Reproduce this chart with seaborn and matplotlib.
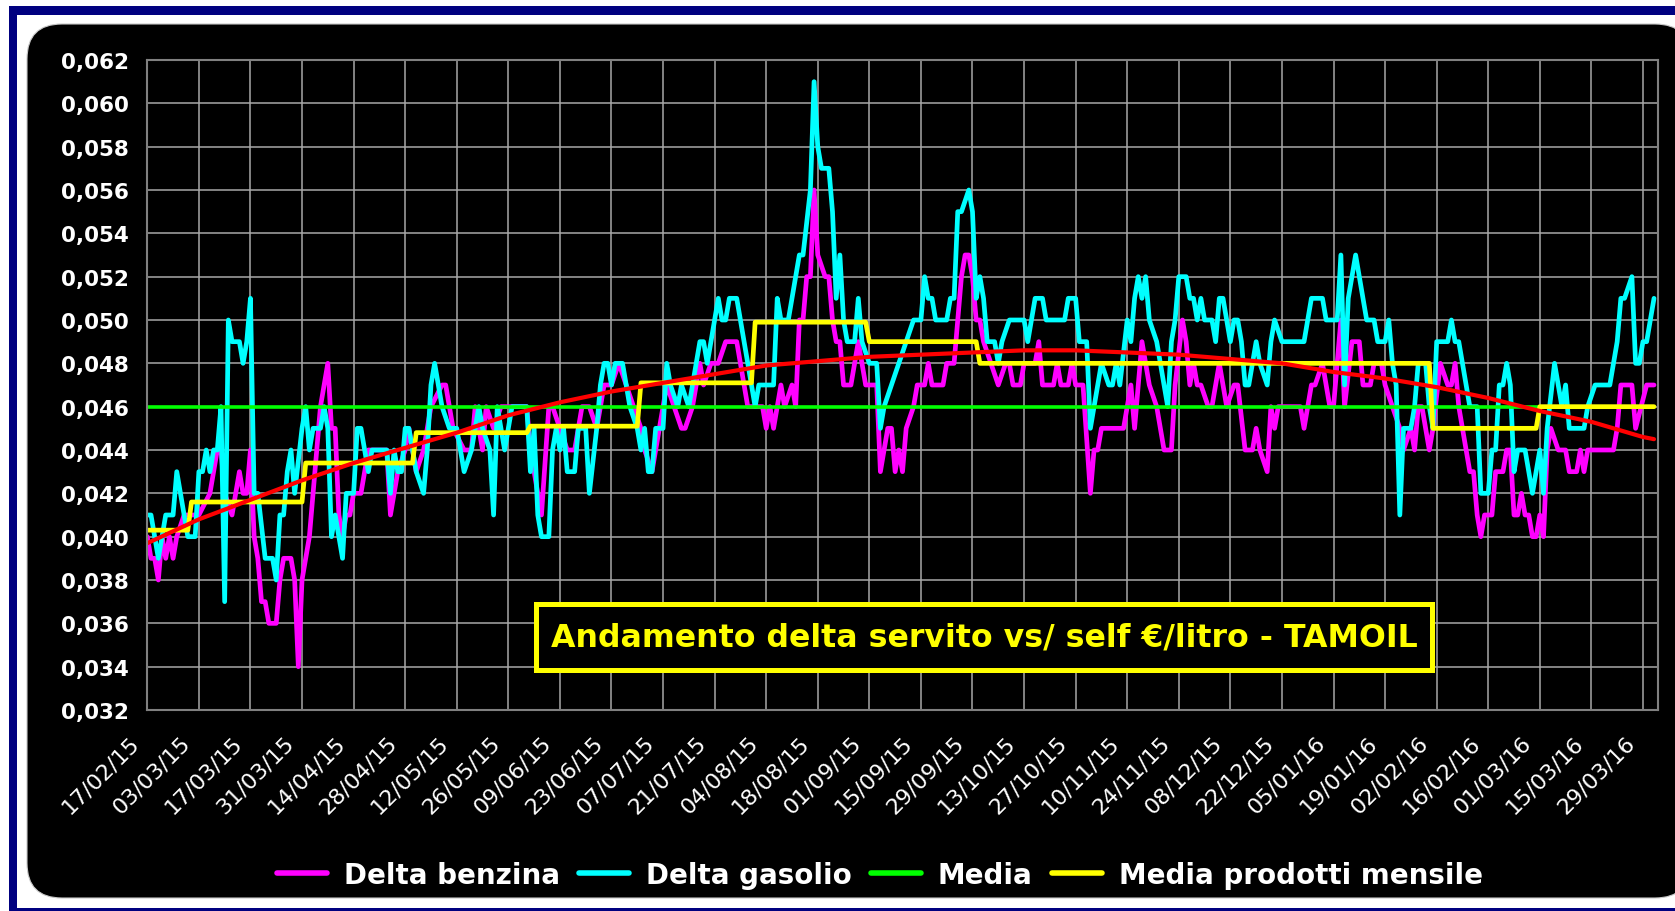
import matplotlib
matplotlib.use("Agg")
import matplotlib.pyplot as plt
from matplotlib.patches import Rectangle, FancyBboxPatch
from matplotlib.lines import Line2D
from matplotlib.transforms import ScaledTranslation
import seaborn as sns
import pandas as pd
import numpy as np

# -------------------
# Data (day offsets from 17/02/2015, values in euro/litre)
# -------------------
START = "2015-02-17"

benz_days = [0, 1, 2, 3, 4, 5, 6, 7, 8, 10, 14, 17, 19, 20, 21, 23, 25, 26, 27, 28,
             29, 30, 31, 32, 33, 35, 36, 37, 39, 40, 41, 42, 44, 45, 47, 48, 49, 50, 51, 52,
             53, 54, 55, 56, 58, 60, 65, 66, 67, 68, 70, 71, 73, 75, 77, 80, 81, 83, 86, 88,
             89, 91, 92, 94, 96, 99, 103, 104, 106, 107, 109, 110, 112, 114, 116, 118, 120, 122, 124, 126,
             128, 130, 132, 134, 135, 137, 139, 141, 143, 145, 146, 148, 150, 151, 153, 155, 157, 160, 162, 163,
             165, 167, 168, 169, 170, 172, 173, 175, 176, 177, 178, 179, 180, 181, 182, 184, 185, 186, 187, 188,
             189, 191, 192, 193, 194, 195, 198, 199, 200, 201, 202, 203, 204, 205, 206, 208, 209, 211, 212, 213,
             216, 217, 219, 220, 221, 222, 223, 224, 225, 226, 227, 229, 231, 233, 234, 235, 237, 238, 241, 242,
             243, 246, 247, 248, 250, 251, 252, 254, 256, 257, 258, 259, 265, 266, 267, 268, 270, 271, 272, 274,
             276, 278, 279, 281, 282, 283, 284, 285, 286, 288, 289, 291, 293, 295, 296, 298, 300, 301, 302, 304,
             305, 306, 307, 313, 314, 316, 317, 319, 321, 322, 324, 325, 327, 329, 330, 332, 333, 335, 336, 338,
             340, 341, 343, 344, 345, 346, 348, 349, 351, 353, 354, 355, 356, 357, 359, 360, 361, 362, 363, 365,
             366, 368, 369, 370, 371, 372, 373, 374, 375, 376, 377, 378, 379, 380, 381, 383, 385, 386, 388, 389,
             390, 391, 398, 399, 400, 403, 404, 407, 409]
benz_vals = [.040, .039, .039, .038, .040, .039, .040, .039, .040, .041, .041, .042, .044, .044, .042, .041, .043, .042, .042, .044,
             .040, .039, .037, .037, .036, .036, .038, .039, .039, .038, .034, .038, .040, .042, .046, .047, .048, .045, .045, .041,
             .040, .041, .041, .042, .042, .044, .044, .041, .042, .043, .044, .045, .043, .044, .046, .047, .047, .045, .044, .044,
             .046, .044, .046, .045, .046, .046, .046, .044, .042, .041, .046, .046, .045, .044, .044, .046, .046, .045, .047, .047,
             .048, .047, .046, .045, .044, .043, .045, .047, .046, .045, .045, .046, .048, .047, .048, .048, .049, .049, .047, .046,
             .046, .046, .045, .046, .045, .047, .046, .047, .046, .050, .050, .052, .052, .056, .053, .052, .052, .050, .049, .049,
             .047, .047, .048, .049, .048, .047, .047, .043, .044, .045, .045, .043, .044, .043, .045, .046, .047, .047, .048, .047,
             .047, .048, .048, .050, .052, .053, .053, .052, .050, .050, .049, .048, .047, .048, .048, .047, .047, .048, .048, .049,
             .047, .047, .048, .047, .047, .048, .047, .047, .042, .044, .044, .045, .045, .046, .047, .045, .049, .048, .047, .046,
             .044, .044, .047, .050, .049, .047, .048, .047, .047, .046, .046, .048, .046, .047, .047, .044, .044, .045, .044, .043,
             .046, .045, .046, .046, .045, .047, .047, .048, .046, .046, .050, .046, .049, .049, .047, .047, .048, .048, .047, .046,
             .045, .044, .045, .044, .046, .046, .044, .045, .048, .047, .047, .048, .046, .045, .043, .043, .041, .040, .041, .041,
             .043, .043, .044, .044, .041, .041, .042, .041, .041, .040, .040, .041, .040, .044, .045, .044, .044, .043, .043, .044,
             .043, .044, .044, .045, .047, .047, .045, .047, .047]

gas_days = [0, 1, 3, 5, 7, 8, 9, 11, 13, 14, 15, 16, 17, 18, 19, 20, 21, 22, 23, 25,
            26, 27, 28, 29, 30, 32, 34, 35, 36, 37, 38, 39, 40, 42, 43, 44, 45, 47, 48, 49,
            50, 51, 53, 54, 56, 57, 58, 60, 61, 65, 66, 67, 68, 69, 70, 71, 73, 75, 76, 77,
            78, 79, 80, 82, 84, 86, 88, 89, 90, 91, 93, 94, 95, 97, 98, 99, 103, 104, 105, 106,
            107, 109, 110, 111, 112, 113, 114, 116, 117, 119, 120, 122, 123, 124, 125, 126, 127, 129, 131, 133,
            134, 135, 136, 137, 138, 140, 141, 142, 144, 145, 147, 148, 150, 151, 152, 153, 155, 156, 157, 158,
            160, 161, 162, 163, 164, 165, 166, 170, 171, 172, 174, 175, 176, 177, 178, 180, 181, 182, 183, 185,
            186, 187, 188, 189, 190, 192, 193, 194, 196, 198, 199, 200, 202, 204, 206, 208, 210, 211, 212, 213,
            214, 217, 218, 219, 220, 221, 223, 224, 225, 226, 227, 228, 230, 231, 232, 234, 238, 239, 240, 241,
            243, 244, 249, 250, 252, 253, 255, 256, 258, 259, 261, 262, 263, 264, 266, 267, 268, 269, 270, 271,
            272, 274, 275, 276, 277, 278, 279, 280, 282, 283, 284, 285, 286, 287, 289, 290, 291, 292, 294, 295,
            296, 297, 298, 299, 301, 302, 304, 305, 306, 308, 314, 316, 319, 320, 323, 324, 325, 326, 328, 331,
            333, 334, 336, 337, 338, 339, 340, 341, 343, 344, 345, 347, 348, 349, 350, 353, 354, 355, 356, 357,
            359, 361, 362, 364, 365, 366, 367, 368, 369, 370, 371, 372, 374, 375, 376, 377, 378, 379, 380, 382,
            383, 384, 385, 386, 390, 391, 393, 397, 398, 399, 400, 401, 403, 404, 405, 406, 407, 409]
gas_vals = [.041, .041, .039, .041, .041, .043, .042, .040, .040, .043, .043, .044, .043, .044, .044, .046, .037, .050, .049, .049,
            .048, .049, .051, .042, .042, .039, .039, .038, .041, .041, .043, .044, .042, .045, .046, .044, .045, .045, .046, .045,
            .040, .041, .039, .042, .042, .045, .045, .043, .044, .044, .042, .044, .043, .043, .045, .045, .043, .042, .044, .047,
            .048, .047, .046, .045, .045, .043, .044, .045, .046, .045, .044, .041, .046, .044, .045, .046, .046, .043, .045, .041,
            .040, .040, .044, .045, .044, .045, .043, .043, .045, .045, .042, .045, .047, .048, .048, .047, .048, .048, .046, .045,
            .044, .045, .043, .043, .045, .045, .048, .047, .046, .047, .046, .047, .049, .049, .048, .049, .051, .050, .050, .051,
            .051, .050, .049, .048, .047, .046, .047, .047, .051, .050, .050, .051, .052, .053, .053, .056, .061, .058, .057, .057,
            .055, .051, .053, .050, .049, .049, .051, .049, .048, .048, .045, .046, .047, .048, .049, .050, .050, .052, .051, .051,
            .050, .050, .051, .051, .055, .055, .056, .055, .051, .052, .051, .049, .049, .048, .049, .050, .050, .049, .050, .051,
            .051, .050, .050, .051, .051, .049, .049, .045, .047, .048, .047, .047, .048, .047, .050, .049, .051, .052, .051, .052,
            .050, .049, .048, .047, .046, .049, .050, .052, .052, .051, .051, .050, .051, .050, .050, .049, .051, .051, .049, .050,
            .050, .049, .047, .047, .049, .048, .047, .049, .050, .049, .049, .051, .051, .050, .050, .053, .047, .051, .053, .050,
            .050, .049, .049, .050, .048, .047, .041, .045, .045, .046, .048, .048, .046, .045, .049, .049, .050, .049, .049, .048,
            .046, .046, .042, .042, .044, .044, .047, .047, .048, .047, .043, .044, .044, .043, .042, .043, .044, .042, .045, .048,
            .047, .046, .047, .045, .045, .046, .047, .047, .048, .049, .051, .051, .052, .048, .048, .049, .049, .051]

media = 0.046
last_day = 409

month_starts = ["2015-02-17", "2015-03-01", "2015-04-01", "2015-05-01", "2015-06-01", "2015-07-01",
                "2015-08-01", "2015-09-01", "2015-10-01", "2015-11-01", "2015-12-01", "2016-01-01",
                "2016-02-01", "2016-03-01"]
month_vals = [0.0403, 0.0416, 0.0434, 0.0448, 0.0451, 0.0471, 0.0499, 0.0490, 0.0480, 0.0480,
              0.0480, 0.0480, 0.0450, 0.0460]

trend_days = [0, 14, 28, 42, 56, 70, 84, 98, 112, 126, 140, 154, 168, 182, 196, 210,
              224, 238, 252, 266, 280, 294, 308, 322, 336, 350, 364, 378, 392, 406, 409]
trend_vals = [0.0397, 0.0408, 0.0417, 0.0426, 0.0434, 0.0441, 0.0448, 0.0456, 0.0462, 0.0467,
              0.0471, 0.0475, 0.0479, 0.0481, 0.0483, 0.0484, 0.0485, 0.0486, 0.0486, 0.0485,
              0.0484, 0.0482, 0.0480, 0.0476, 0.0473, 0.0469, 0.0464, 0.0458, 0.0453, 0.0446, 0.0445]

legend_labels = ["Delta benzina", "Delta gasolio", "Media", "Media prodotti mensile"]
title = "Andamento delta servito vs/ self €/litro - TAMOIL"

# -------------------
# Build series
# -------------------
start = pd.Timestamp(START)
to_dates = lambda d: start + pd.to_timedelta(d, unit="D")
end = to_dates(last_day)

m_starts = pd.to_datetime(month_starts)
m_ends = list(m_starts[1:] - pd.Timedelta(days=1)) + [end]
ym_x, ym_y = [], []
for s, e, v in zip(m_starts, m_ends, month_vals):
    ym_x += [s, e]
    ym_y += [v, v]

sns.set_theme(style="dark")
plt.rcParams["font.family"] = ["DejaVu Sans"]

fig = plt.figure(figsize=(16.75, 9.12), dpi=100)
fig.patch.set_facecolor("white")

# frame: navy border, white gap, black rounded panel (pixel coords)
fig.add_artist(Rectangle((9.3, -20), 1700, 912 - 6.7 + 20, transform=None,
                         fc="#000080", ec="none", zorder=-10))
fig.add_artist(Rectangle((17, 3), 1700, 893, transform=None,
                         fc="white", ec="none", zorder=-9))
fig.add_artist(FancyBboxPatch((27, 13), 1663, 874, transform=None,
                              boxstyle="round,pad=0,rounding_size=35",
                              fc="black", ec="#c8c8c8", lw=0.8, zorder=-8))

ax = fig.add_axes([147.3 / 1675, 1 - 711 / 912, 1510.4 / 1675, 650 / 912])
ax.set_facecolor("black")

lw_main = 3.4
sns.lineplot(x=to_dates(benz_days), y=benz_vals, ax=ax, color="#ff00ff", lw=lw_main,
             estimator=None, sort=False, zorder=2)
sns.lineplot(x=to_dates(gas_days), y=gas_vals, ax=ax, color="#00ffff", lw=lw_main,
             estimator=None, sort=False, zorder=2.1)
sns.lineplot(x=[start, end], y=[media, media], ax=ax, color="#00ff00", lw=2.6,
             estimator=None, sort=False, zorder=2.2)
sns.lineplot(x=ym_x, y=ym_y, ax=ax, color="#ffff00", lw=3.4,
             estimator=None, sort=False, zorder=2.3)
sns.lineplot(x=to_dates(trend_days), y=trend_vals, ax=ax, color="#ff0000", lw=3.0,
             estimator=None, sort=False, zorder=2.4)

# axes
ax.set_xlim(start, to_dates(410))
ax.set_ylim(0.032, 0.062)
yt = np.round(np.arange(0.032, 0.0621, 0.002), 3)
ax.set_yticks(yt)
ax.set_yticklabels([f"{v:.3f}".replace(".", ",") for v in yt],
                   color="white", fontsize=15.5, fontweight="bold")
xt = [to_dates(14 * k) for k in range(30)]
ax.set_xticks(xt)
ax.set_xticklabels([d.strftime("%d/%m/%y") for d in xt], rotation=45, ha="right",
                   va="top", rotation_mode="anchor", color="white", fontsize=16)
ax.tick_params(axis="both", length=0)
ax.tick_params(axis="y", pad=13)
ax.tick_params(axis="x", pad=8)
# nudge the rotated date labels (after tick_params, which resets transforms)
shift = ScaledTranslation(-13.5 / 72, -7.5 / 72, fig.dpi_scale_trans)
for tick in ax.xaxis.get_major_ticks():
    tick.label1.set_transform(tick.label1.get_transform() + shift)
ax.set_xlabel("")
ax.set_ylabel("")
ax.grid(True, color="#a8a8a8", lw=1.1)
for sp in ax.spines.values():
    sp.set_visible(True)
    sp.set_color("#808080")
    sp.set_linewidth(1.5)

# title box
ax.add_patch(Rectangle((0.2573, 0.0615), 0.8506 - 0.2573, 0.1631 - 0.0615,
                       transform=ax.transAxes, fc="black", ec="#ffff00", lw=3.6, zorder=5))
ax.text(0.554, 0.1123, title, transform=ax.transAxes, ha="center", va="center",
        fontsize=22.8, fontweight="bold", color="#ffff00", zorder=6)

handles = [Line2D([], [], color=c, lw=4) for c in ["#ff00ff", "#00ffff", "#00ff00", "#ffff00"]]
leg = fig.legend(handles, legend_labels, loc="center", bbox_to_anchor=(880 / 1675, 1 - 876 / 912),
                 ncol=4, frameon=False, fontsize=20, handlelength=1.8, handletextpad=0.6,
                 columnspacing=0.7)
for t in leg.get_texts():
    t.set_color("white")
    t.set_fontweight("bold")

fig.savefig("out.png", dpi=100, facecolor="white")
